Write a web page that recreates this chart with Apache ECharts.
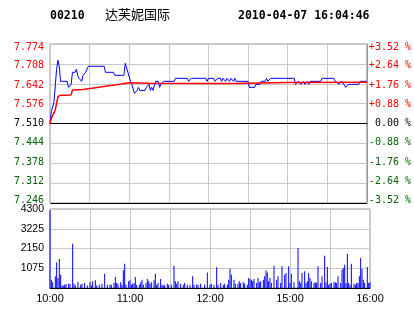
<!DOCTYPE html>
<html><head><meta charset="utf-8">
<script src="https://cdn.jsdelivr.net/npm/echarts@6/dist/echarts.min.js"></script>
<style>html,body{margin:0;padding:0;background:#fff}#c{width:414px;height:314px}</style>
</head><body><div id="c"></div>
<script>
const stockCode = '00210';
const stockName = '达芙妮国际';
const stamp = '2010-04-07 16:04:46';
const prevClose = 7.51;
const timeLabels = {0:'10:00',60:'11:00',120:'12:00',180:'15:00',240:'16:00'};
const leftTickLabels = ['7.246','7.312','7.378','7.444','7.510','7.576','7.642','7.708','7.774'];
const rightTickLabels = ['-3.52 %','-2.64 %','-1.76 %','-0.88 %',' 0.00 %','+0.88 %','+1.76 %','+2.64 %','+3.52 %'];
const volTickLabels = ['','1075','2150','3225','4300'];

const priceMinutes = [0,1,2,3,4,5,6,7,8,13,14,16,17,19,20,21,22,24,25,27,29,41,42,48,49,56,57,58,59,61,62,64,66,67,68,72,73,75,76,77,78,80,82,83,84,86,94,95,104,105,106,107,118,119,120,124,125,126,127,129,130,131,133,134,136,137,139,140,141,150,151,155,156,159,160,163,164,165,167,185,186,188,190,192,193,195,196,197,205,206,215,216,219,221,224,226,234,235,240];
const prices = [7.51,7.55,7.55,7.58,7.58,7.69,7.72,7.70,7.65,7.65,7.63,7.64,7.68,7.68,7.69,7.67,7.66,7.65,7.67,7.68,7.70,7.70,7.68,7.68,7.67,7.67,7.71,7.71,7.68,7.65,7.64,7.61,7.62,7.63,7.62,7.62,7.63,7.64,7.62,7.63,7.62,7.65,7.65,7.63,7.64,7.65,7.65,7.66,7.66,7.65,7.65,7.66,7.66,7.65,7.66,7.66,7.65,7.65,7.66,7.66,7.65,7.66,7.65,7.66,7.65,7.66,7.65,7.66,7.65,7.65,7.63,7.63,7.64,7.64,7.65,7.65,7.66,7.65,7.66,7.66,7.64,7.65,7.64,7.65,7.64,7.65,7.64,7.65,7.65,7.66,7.66,7.65,7.64,7.65,7.63,7.64,7.64,7.65,7.65];

const avgMinutes = [0,1,4,6,8,16,17,25,33,42,53,60,75,120,140,141,180,240];
const avgPrices = [7.51,7.527,7.555,7.599,7.604,7.605,7.621,7.623,7.628,7.634,7.640,7.645,7.644,7.643,7.643,7.646,7.646,7.647];

const volMinutes = [0,1,2,4,5,6,7,8,9,10,11,12,14,15,17,18,19,21,23,24,26,28,30,31,32,34,35,37,39,41,43,45,46,48,49,50,51,53,54,55,56,57,59,60,61,62,63,64,65,67,68,69,70,72,73,74,75,76,78,79,80,81,83,84,85,86,88,89,91,93,94,95,96,98,100,101,103,105,107,108,110,111,113,116,118,120,121,123,125,126,128,130,131,133,134,135,136,138,139,141,142,143,145,146,148,149,150,151,152,153,155,156,157,158,160,161,162,163,164,165,166,168,170,171,173,174,176,177,179,180,181,183,186,187,188,189,191,192,193,194,195,196,198,199,200,201,203,204,206,207,208,209,210,211,213,214,215,216,218,219,220,221,222,223,224,225,226,228,229,230,231,232,233,234,235,236,238,239,240];
const volValues = [4250,450,310,635,1400,545,1580,725,130,130,180,220,235,220,2410,235,130,330,180,235,270,130,330,130,365,420,130,180,235,780,180,180,180,270,600,270,235,310,180,960,1320,180,365,420,180,235,270,600,180,180,310,455,180,270,490,365,235,310,420,780,180,270,490,180,130,180,235,180,180,1215,365,235,365,235,180,270,180,180,635,180,180,180,235,180,850,180,220,180,1125,180,270,180,235,180,455,1050,725,455,235,235,365,270,310,235,180,545,490,455,365,490,270,545,310,365,455,635,960,850,365,545,270,1215,455,635,270,1180,725,815,1180,270,780,310,2175,365,270,815,905,270,365,815,545,365,270,310,270,1180,270,635,1760,310,1140,180,235,270,310,310,270,635,270,995,1090,1270,270,1870,270,180,1320,235,180,270,270,635,1630,1040,455,270,1140,270,310];

const toDelta = p => (p - prevClose) * 1000;
const priceData = priceMinutes.map((m, i) => [m, toDelta(prices[i])]);
const avgData = avgMinutes.map((m, i) => [m, toDelta(avgPrices[i])]);
const volData = volMinutes.map((m, i) => [m, volValues[i]]);

const GRID = '#c8c8c8';
const RED = '#ff0000', GREEN = '#006600', BLUE = '#0000ff';
const mono = 'DejaVu Sans Mono';

// label styles: colour by side, small vertical nudge so labels spread like the reference
const richStyles = {};
for (let i = 0; i < 9; i++) {
  const d = Math.round(6 * i / 8 - 3); // -3 at bottom .. +3 at top
  const col = i > 4 ? RED : (i < 4 ? GREEN : '#000');
  richStyles['s' + i] = {
    color: col, fontFamily: mono, fontSize: 10,
    padding: d > 0 ? [2 * d, 0, 0, 0] : [0, 0, -2 * d, 0]
  };
}
const idxOf = v => Math.round((v + 264) / 66);

const chart = echarts.init(document.getElementById('c'), null, {renderer: 'canvas'});
chart.setOption({
  animation: false,
  backgroundColor: '#fff',
  graphic: [
    {type: 'text', left: 50, top: 10, style: {text: stockCode, font: 'bold 11.5px "DejaVu Sans Mono"', fill: '#000'}},
    {type: 'text', left: 105, top: 8, style: {text: stockName, font: '13px "Noto Sans CJK SC"', fill: '#000'}},
    {type: 'text', left: 238, top: 10, style: {text: stamp, font: 'bold 11.5px "DejaVu Sans Mono"', fill: '#000'}}
  ],
  grid: [
    {left: 50, top: 44, width: 320, height: 159, show: true, borderColor: '#999', borderWidth: 1, backgroundColor: 'transparent'},
    {left: 50, top: 209, width: 320, height: 79, show: true, borderColor: '#999', borderWidth: 1, backgroundColor: 'transparent'}
  ],
  xAxis: [
    {type: 'value', gridIndex: 0, min: 0, max: 240, interval: 30,
     axisLine: {show: true, lineStyle: {color: '#000', width: 1}}, axisTick: {show: false}, axisLabel: {show: false},
     splitLine: {show: true, lineStyle: {color: GRID, width: 1}}},
    {type: 'value', gridIndex: 1, min: 0, max: 240, interval: 30,
     axisLine: {show: true, lineStyle: {color: '#000', width: 1}}, axisTick: {show: false},
     axisLabel: {show: true, margin: 5, color: '#000', fontFamily: 'Liberation Sans', fontSize: 11,
                 formatter: v => timeLabels[v] || ''},
     splitLine: {show: true, lineStyle: {color: GRID, width: 1}}}
  ],
  yAxis: [
    {type: 'value', gridIndex: 0, position: 'left', min: -264, max: 264, interval: 66,
     axisLine: {show: true, lineStyle: {color: GRID}}, axisTick: {show: false},
     axisLabel: {margin: 6, fontFamily: mono, fontSize: 10, rich: richStyles,
                 formatter: v => '{s' + idxOf(v) + '|' + leftTickLabels[idxOf(v)] + '}'},
     splitLine: {show: true, lineStyle: {width: 1, color: ['#000', GRID, GRID, GRID, '#000', GRID, GRID, GRID, GRID]}}},
    {type: 'value', gridIndex: 0, position: 'right', min: -264, max: 264, interval: 66,
     axisLine: {show: true, lineStyle: {color: '#999'}}, axisTick: {show: false},
     axisLabel: {margin: 2, fontFamily: mono, fontSize: 10, rich: richStyles,
                 formatter: v => '{s' + idxOf(v) + '|' + rightTickLabels[idxOf(v)] + '}'},
     splitLine: {show: false}},
    {type: 'value', gridIndex: 1, min: 0, max: 4300, interval: 1075,
     axisLine: {show: true, lineStyle: {color: GRID}}, axisTick: {show: false},
     axisLabel: {margin: 6, fontFamily: 'Liberation Sans', fontSize: 10.5, color: '#000', padding: [6, 0, 0, 0],
                 showMinLabel: false,
                 formatter: v => volTickLabels[Math.round(v / 1075)]},
     splitLine: {show: true, lineStyle: {color: GRID, width: 1}}}
  ],
  series: [
    {type: 'line', xAxisIndex: 0, yAxisIndex: 0, data: priceData, showSymbol: false, symbol: 'none',
     lineStyle: {color: BLUE, width: 1}, z: 3},
    {type: 'line', xAxisIndex: 0, yAxisIndex: 0, data: avgData, showSymbol: false, symbol: 'none',
     lineStyle: {color: RED, width: 1.5}, z: 4},
    {type: 'bar', xAxisIndex: 1, yAxisIndex: 2, data: volData, barWidth: 1,
     itemStyle: {color: BLUE}, z: 3}
  ]
});
</script>
</body></html>
